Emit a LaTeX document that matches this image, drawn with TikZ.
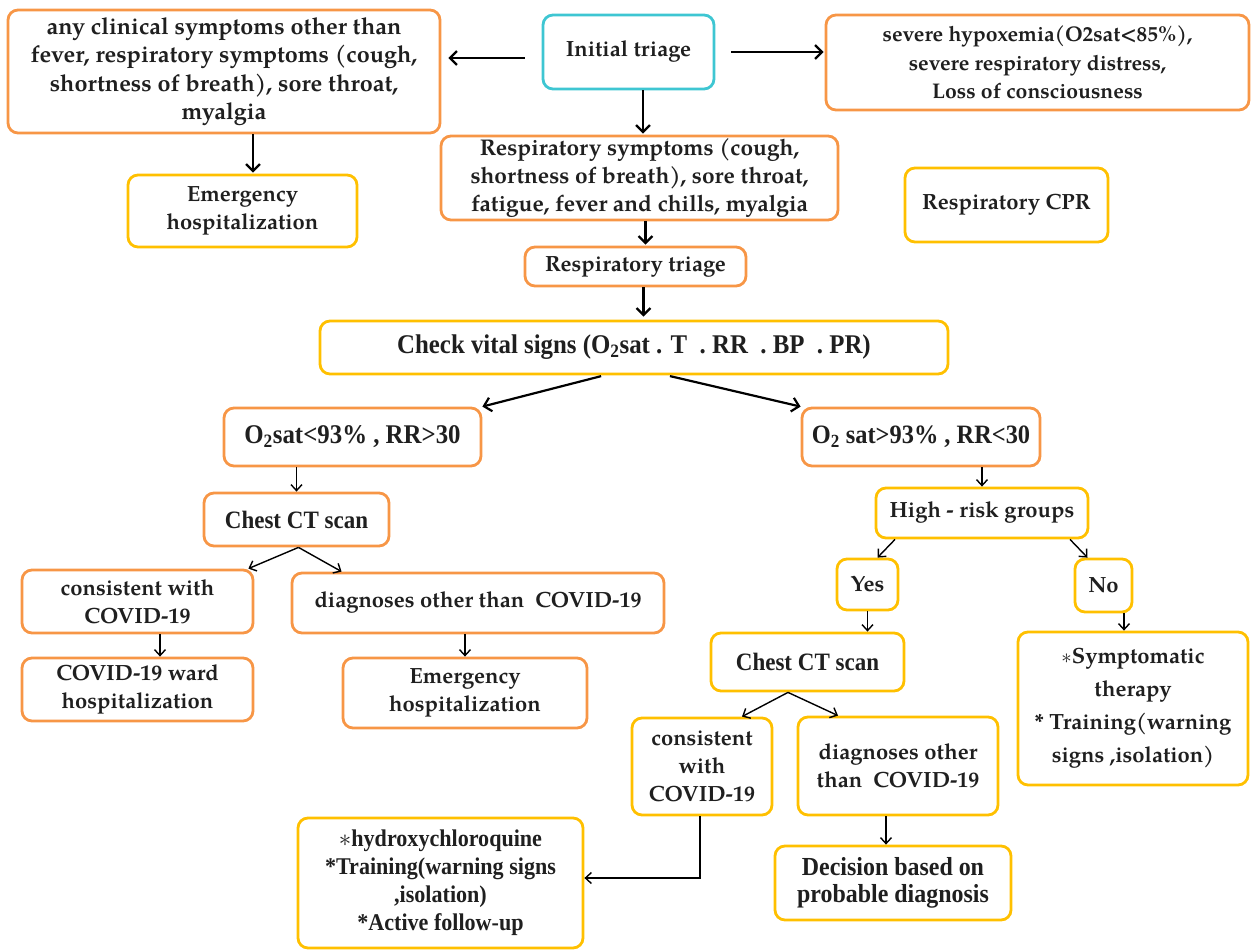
\documentclass[tikz,border=0pt]{standalone}
\usepackage{fontspec}
\setmainfont{TeX Gyre Pagella}
\newfontfamily\cnd[FakeStretch=0.92]{Liberation Serif}
\usetikzlibrary{arrows.meta}
\definecolor{obor}{HTML}{F79646}
\definecolor{ybor}{HTML}{FFC000}
\definecolor{cbor}{HTML}{3EC6D2}
\tikzset{
 box/.style={draw, rounded corners=10pt, line width=2.8pt, fill=white, align=center, inner sep=0pt, font=\bfseries\fontsize{22}{28}\selectfont, text=black!88},
 ob/.style={box, draw=obor},
 yb/.style={box, draw=ybor},
 cb/.style={box, draw=cbor},
 tms/.style={font=\cnd\bfseries\fontsize{25}{28}\selectfont},
 arr/.style={-{Straight Barb[length=7pt,width=14pt]}, line width=2.2pt},
 tarr/.style={-{Straight Barb[length=6pt,width=11pt]}, line width=1.4pt},
}
\begin{document}
\begin{tikzpicture}[x=1pt,y=-1pt]
\useasboundingbox (0,0) rectangle (1251,952);
% top
\node[ob, font=\bfseries\fontsize{23.4}{28.5}\selectfont, minimum width=432pt, minimum height=123pt] (anyc) at (224,71.5) {any clinical symptoms other than\\ fever, respiratory symptoms (cough,\\ shortness of breath), sore throat,\\ myalgia};
\node[yb, minimum width=229pt, minimum height=72pt] (emg1) at (242.5,211) {Emergency\\ hospitalization};
\node[cb, minimum width=171pt, minimum height=74pt] (init) at (628.5,52) {Initial triage};
\node[ob, font=\bfseries\fontsize{21.2}{28.5}\selectfont, minimum width=423pt, minimum height=95pt] (severe) at (1037.5,62.5) {severe hypoxemia(O2sat<85\%),\\ severe respiratory distress,\\ Loss of consciousness};
\node[yb, minimum width=203pt, minimum height=74pt] (cpr) at (1006.5,205) {Respiratory CPR};
\node[ob, font=\bfseries\fontsize{22.7}{28}\selectfont, minimum width=397pt, minimum height=84pt] (resp) at (639.5,178) {Respiratory symptoms (cough,\\ shortness of breath), sore throat,\\ fatigue, fever and chills, myalgia};
\node[ob, minimum width=221pt, minimum height=39pt] (rtri) at (635.5,266.5) {Respiratory triage};
\node[yb, font=\cnd\bfseries\fontsize{27}{30}\selectfont, minimum width=628pt, minimum height=53pt] (vital) at (634,347.5) {Check vital signs (O\textsubscript{2}sat . T ~. RR ~. BP ~. PR)};
% left branch
\node[ob, tms, font=\cnd\bfseries\fontsize{27}{28}\selectfont, minimum width=257pt, minimum height=58pt] (lo) at (352.5,437) {O\textsubscript{2}sat<93\% , RR>30};
\node[ob, tms, minimum width=185pt, minimum height=53pt] (ct1) at (296.5,519.5) {Chest CT scan};
\node[ob, minimum width=231pt, minimum height=63pt] (cons1) at (137.5,601.5) {consistent with\\ COVID-19};
\node[ob, minimum width=372pt, minimum height=60pt] (diag1) at (478,603) {diagnoses other than~~COVID-19};
\node[ob, minimum width=231pt, minimum height=63pt] (ward) at (137.5,689.5) {COVID-19 ward\\ hospitalization};
\node[ob, minimum width=244pt, minimum height=70pt] (emg2) at (465,693) {Emergency\\ hospitalization};
% right branch
\node[ob, tms, font=\cnd\bfseries\fontsize{26.5}{28}\selectfont, minimum width=238pt, minimum height=58pt] (hi) at (921,437) {O\textsubscript{2} sat>93\% , RR<30};
\node[yb, minimum width=212pt, minimum height=50pt] (hrg) at (982,513) {High - risk groups};
\node[yb, minimum width=61pt, minimum height=51pt] (yes) at (867.5,584.5) {Yes};
\node[yb, minimum width=57pt, minimum height=53pt] (no) at (1103.5,585.5) {No};
\node[yb, tms, minimum width=193pt, minimum height=58pt] (ct2) at (807.5,662) {Chest CT scan};
\node[yb, minimum width=140pt, minimum height=97pt] (cons2) at (702,766.5) {consistent\\ with\\ COVID-19};
\node[yb, minimum width=200pt, minimum height=98pt] (diag2) at (898,766) {diagnoses other\\ than~~COVID-19};
\node[yb, minimum width=230pt, minimum height=153pt, font=\bfseries\fontsize{22}{33}\selectfont] (symp) at (1133,708.5) {$\ast$Symptomatic\\ therapy\\ * Training(warning\\ signs ,isolation)};
\node[yb, font=\cnd\bfseries\fontsize{24}{28}\selectfont, minimum width=285pt, minimum height=130pt] (hcq) at (440.5,883) {$\ast$hydroxychloroquine\\ *Training(warning signs\\ ,isolation)\\ *Active follow-up};
\node[yb, font=\cnd\bfseries\fontsize{26}{27}\selectfont, minimum width=236pt, minimum height=74pt] (dec) at (893,883) {Decision based on\\ probable diagnosis};
% connectors
\draw[arr, shorten <=17pt, shorten >=7pt] ([yshift=-6pt]init.west) -- ([yshift=-6pt]anyc.east |- init.west);
\draw[arr, shorten <=16pt, shorten >=1pt] (init.east) -- (severe.west |- init.east);
\draw[arr, shorten >=1pt] ([xshift=14.5pt]init.south) -- ([xshift=14.5pt]init.south |- resp.north);
\draw[arr, shorten >=1pt] ([xshift=10.5pt]emg1.north |- anyc.south) -- ([xshift=10.5pt]emg1.north);
\draw[arr, shorten >=1pt] ([xshift=6pt]resp.south) -- ([xshift=6pt]resp.south |- rtri.north);
\draw[arr, shorten >=3pt] ([xshift=8pt]rtri.south) -- ([xshift=8pt]rtri.south |- vital.north);
\draw[arr, shorten <=3pt] ([xshift=-30pt]vital.south) -- (lo.north east);
\draw[arr, shorten <=3pt] ([xshift=33pt]vital.south) -- (hi.north west);
\draw[tarr] (lo.south -| ct1.north) -- (ct1.north);
\draw[tarr] ([xshift=2pt]ct1.south) -- ([xshift=-6pt]cons1.north east);
\draw[tarr] ([xshift=2pt]ct1.south) -- ([xshift=51pt]diag1.north west);
\draw[tarr] ([xshift=22.5pt]cons1.south) -- ([xshift=22.5pt]cons1.south |- ward.north);
\draw[tarr] (diag1.south -| emg2.north) -- (emg2.north);
\draw[tarr] (hi.south -| hrg.north) -- (hrg.north);
\draw[tarr] ([xshift=-87pt]hrg.south) -- ([xshift=10pt]yes.north);
\draw[tarr] ([xshift=88pt]hrg.south) -- ([xshift=-16pt]no.north);
\draw[tarr] ([xshift=20.5pt]no.south) -- ([xshift=20.5pt]no.south |- symp.north);
\draw[tarr] (yes.south) -- (yes.south |- ct2.north);
\draw[tarr] ([xshift=-19.5pt]ct2.south) -- ([xshift=40pt]cons2.north);
\draw[tarr] ([xshift=-19.5pt]ct2.south) -- ([xshift=-60pt]diag2.north);
\draw[tarr] ([xshift=-2pt]cons2.south) |- ([yshift=5pt]hcq.east);
\draw[tarr] ([xshift=-12pt]diag2.south) -- ([xshift=-12pt]diag2.south |- dec.north);
\end{tikzpicture}
\end{document}
